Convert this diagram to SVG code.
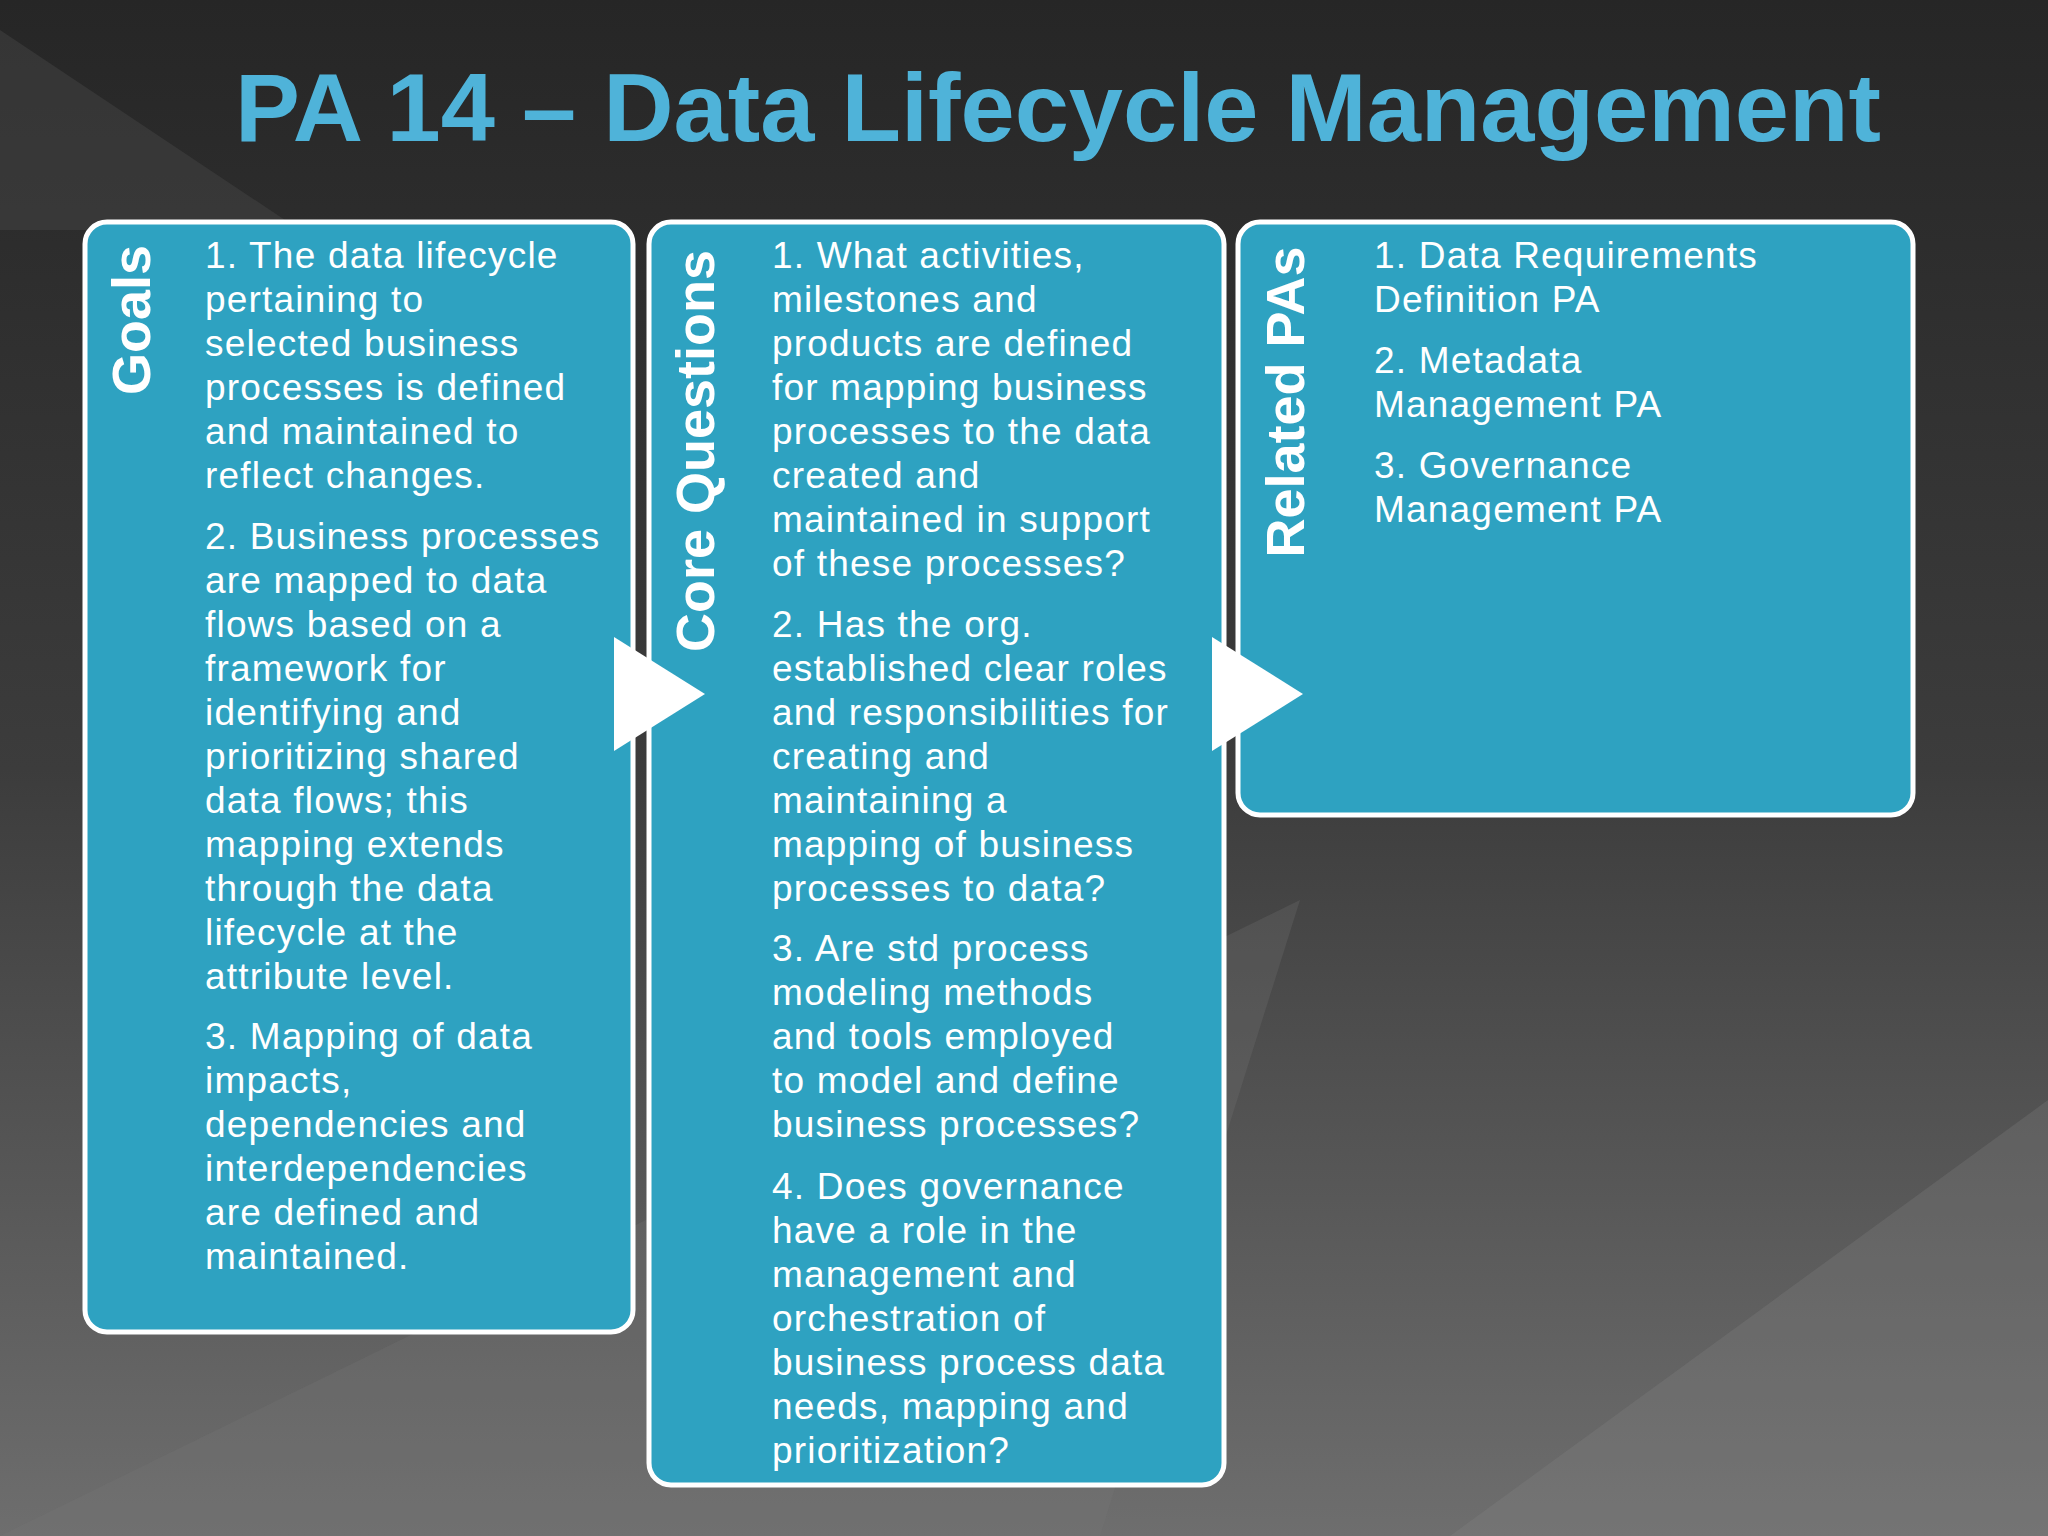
<svg xmlns="http://www.w3.org/2000/svg" width="2048" height="1536" viewBox="0 0 2048 1536">
<defs>
<linearGradient id="bg" x1="0" y1="0" x2="0" y2="1">
<stop offset="0" stop-color="#262626"/><stop offset="0.5" stop-color="#3c3c3c"/><stop offset="1" stop-color="#6e6e6e"/>
</linearGradient>
<style>
.box{fill:#2ea2c1;stroke:#fff;stroke-width:5}
.lbl{font-family:"Liberation Sans",Arial,sans-serif;font-weight:bold;font-size:54px;fill:#fff;text-anchor:middle}
.t{font-family:"Liberation Sans",Arial,sans-serif;font-size:37px;letter-spacing:1.2px;fill:#fff}
.arr{fill:#fff}
</style>
</defs>
<rect width="2048" height="1536" fill="url(#bg)"/>
<polygon points="0,30 300,230 0,230" fill="#444" opacity="0.5"/>
<polygon points="0,1536 1100,1536 1300,900 " fill="#777" opacity="0.25"/>
<polygon points="1450,1536 2048,1100 2048,1536" fill="#888" opacity="0.25"/>
<text x="1058" y="141" font-family="'Liberation Sans',Arial,sans-serif" font-weight="bold" font-size="96" fill="#4fb3d9" text-anchor="middle" textLength="1646" lengthAdjust="spacingAndGlyphs">PA 14 – Data Lifecycle Management</text>
<g id="goals">
<rect class="box" x="85" y="222" width="548" height="1110" rx="22"/>
<text class="lbl" transform="translate(150,320) rotate(-90)">Goals</text>
<text class="t" x="205" y="268"><tspan x="205">1. The data lifecycle</tspan><tspan x="205" dy="44">pertaining to</tspan><tspan x="205" dy="44">selected business</tspan><tspan x="205" dy="44">processes is defined</tspan><tspan x="205" dy="44">and maintained to</tspan><tspan x="205" dy="44">reflect changes.</tspan></text>
<text class="t" x="205" y="549"><tspan x="205">2. Business processes</tspan><tspan x="205" dy="44">are mapped to data</tspan><tspan x="205" dy="44">flows based on a</tspan><tspan x="205" dy="44">framework for</tspan><tspan x="205" dy="44">identifying and</tspan><tspan x="205" dy="44">prioritizing shared</tspan><tspan x="205" dy="44">data flows; this</tspan><tspan x="205" dy="44">mapping extends</tspan><tspan x="205" dy="44">through the data</tspan><tspan x="205" dy="44">lifecycle at the</tspan><tspan x="205" dy="44">attribute level.</tspan></text>
<text class="t" x="205" y="1049"><tspan x="205">3. Mapping of data</tspan><tspan x="205" dy="44">impacts,</tspan><tspan x="205" dy="44">dependencies and</tspan><tspan x="205" dy="44">interdependencies</tspan><tspan x="205" dy="44">are defined and</tspan><tspan x="205" dy="44">maintained.</tspan></text>
</g>
<g id="core">
<rect class="box" x="649" y="222" width="575" height="1263" rx="22"/>
<text class="lbl" transform="translate(714,451) rotate(-90)">Core Questions</text>
<text class="t" x="772" y="268"><tspan x="772">1. What activities,</tspan><tspan x="772" dy="44">milestones and</tspan><tspan x="772" dy="44">products are defined</tspan><tspan x="772" dy="44">for mapping business</tspan><tspan x="772" dy="44">processes to the data</tspan><tspan x="772" dy="44">created and</tspan><tspan x="772" dy="44">maintained in support</tspan><tspan x="772" dy="44">of these processes?</tspan></text>
<text class="t" x="772" y="637"><tspan x="772">2. Has the org.</tspan><tspan x="772" dy="44">established clear roles</tspan><tspan x="772" dy="44">and responsibilities for</tspan><tspan x="772" dy="44">creating and</tspan><tspan x="772" dy="44">maintaining a</tspan><tspan x="772" dy="44">mapping of business</tspan><tspan x="772" dy="44">processes to data?</tspan></text>
<text class="t" x="772" y="961"><tspan x="772">3. Are std process</tspan><tspan x="772" dy="44">modeling methods</tspan><tspan x="772" dy="44">and tools employed</tspan><tspan x="772" dy="44">to model and define</tspan><tspan x="772" dy="44">business processes?</tspan></text>
<text class="t" x="772" y="1199"><tspan x="772">4. Does governance</tspan><tspan x="772" dy="44">have a role in the</tspan><tspan x="772" dy="44">management and</tspan><tspan x="772" dy="44">orchestration of</tspan><tspan x="772" dy="44">business process data</tspan><tspan x="772" dy="44">needs, mapping and</tspan><tspan x="772" dy="44">prioritization?</tspan></text>
</g>
<g id="related">
<rect class="box" x="1238" y="222" width="675" height="593" rx="22"/>
<text class="lbl" transform="translate(1304,402) rotate(-90)">Related PAs</text>
<text class="t" x="1374" y="268"><tspan x="1374">1. Data Requirements</tspan><tspan x="1374" dy="44">Definition PA</tspan></text>
<text class="t" x="1374" y="373"><tspan x="1374">2. Metadata</tspan><tspan x="1374" dy="44">Management PA</tspan></text>
<text class="t" x="1374" y="478"><tspan x="1374">3. Governance</tspan><tspan x="1374" dy="44">Management PA</tspan></text>
</g>
<g id="connectors">
<polygon class="arr" points="614,637 705,694 614,751"/>
<polygon class="arr" points="1212,637 1303,694 1212,751"/>
</g>
</svg>
